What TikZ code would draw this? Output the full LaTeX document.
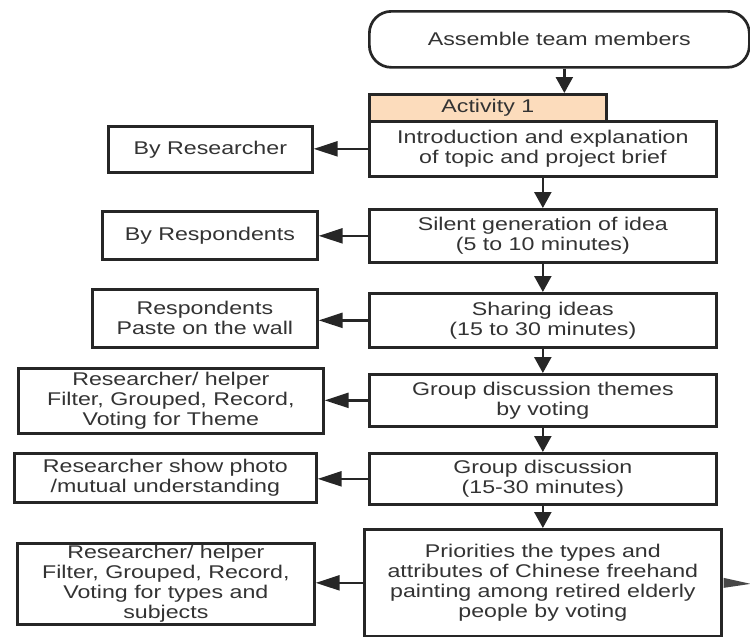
\documentclass[tikz,border=0pt]{standalone}
\usepackage{fontspec}
\setmainfont[FakeStretch=1.26]{Liberation Sans}
\usetikzlibrary{arrows.meta}
\definecolor{ln}{HTML}{262626}
\definecolor{tx}{HTML}{333333}
\definecolor{peach}{HTML}{FCDCBC}
\begin{document}
\begin{tikzpicture}[x=1pt,y=-1pt,
  box/.style={draw=ln, line width=2.7pt, fill=white, inner sep=0pt, align=center,
    text=tx, anchor=north west, font=\fontsize{18.4}{20}\selectfont},
  varr/.style={draw=ln, line width=2.4pt, -{Triangle[length=16pt,width=17pt]}},
  harr/.style={draw=ln, line width=2.4pt, -{Triangle[length=24pt,width=15pt]}}]
\useasboundingbox (0,0) rectangle (750,637);

% main column
\node[box, rounded corners=22pt, minimum width=380pt, minimum height=56pt] (start) at (368,10) {Assemble team members};
\node[box, fill=peach, minimum width=237pt, minimum height=27pt] (act) at (368,93) {Activity 1};
\node[box, minimum width=347pt, minimum height=55pt] (b1) at (368,120) {Introduction and explanation\\of topic and project brief};
\node[box, minimum width=347pt, minimum height=53pt] (b2) at (368,208) {Silent generation of idea\\(5 to 10 minutes)};
\node[box, minimum width=347pt, minimum height=54pt] (b3) at (368,292) {Sharing ideas\\(15 to 30 minutes)};
\node[box, minimum width=347pt, minimum height=52pt] (b4) at (368,373) {Group discussion themes\\by voting};
\node[box, minimum width=347pt, minimum height=51pt] (b5) at (368,452) {Group discussion\\(15-30 minutes)};
\node[box, minimum width=357pt, minimum height=107pt] (b6) at (363,528) {Priorities the types and\\attributes of Chinese freehand\\painting among retired elderly\\people by voting};

% left column
\node[box, minimum width=204pt, minimum height=46pt] (l1) at (107,125) {By Researcher};
\node[box, minimum width=215pt, minimum height=48pt] (l2) at (101,210) {By Respondents};
\node[box, minimum width=225pt, minimum height=58pt] (l3) at (91,288) {Respondents\\Paste on the wall};
\node[box, minimum width=305pt, minimum height=65pt] (l4) at (17,367) {Researcher/ helper\\Filter, Grouped, Record,\\Voting for Theme};
\node[box, minimum width=302pt, minimum height=49pt] (l5) at (13,452) {Researcher show photo\\/mutual understanding};
\node[box, minimum width=297pt, minimum height=81pt] (l6) at (16,542) {Researcher/ helper\\Filter, Grouped, Record,\\Voting for types and\\subjects};

% vertical arrows
\draw[varr] ([xshift=5pt]start.south) -- ([xshift=5pt]start.south |- act.north);
\draw[varr] (b1.south) -- (b2.north);
\draw[varr] (b2.south) -- (b3.north);
\draw[varr] (b3.south) -- (b4.north);
\draw[varr] (b4.south) -- (b5.north);
\draw[varr] (b5.south) -- (b6.north);

% horizontal arrows
\draw[harr] (b1.west) -- (b1.west -| l1.east);
\draw[harr] (b2.west) -- (b2.west -| l2.east);
\draw[harr] (b3.west) -- (b3.west -| l3.east);
\draw[harr] (b4.west) -- (b4.west -| l4.east);
\draw[harr] (b5.west) -- (b5.west -| l5.east);
\draw[harr] (b6.west) -- (b6.west -| l6.east);

% partial wedge at right edge
\fill[ln!85] ([xshift=1pt,yshift=-5pt]b6.east) -- ([xshift=28pt,yshift=-1pt]b6.east) -- ([xshift=1pt,yshift=5pt]b6.east) -- cycle;
\end{tikzpicture}
\end{document}
